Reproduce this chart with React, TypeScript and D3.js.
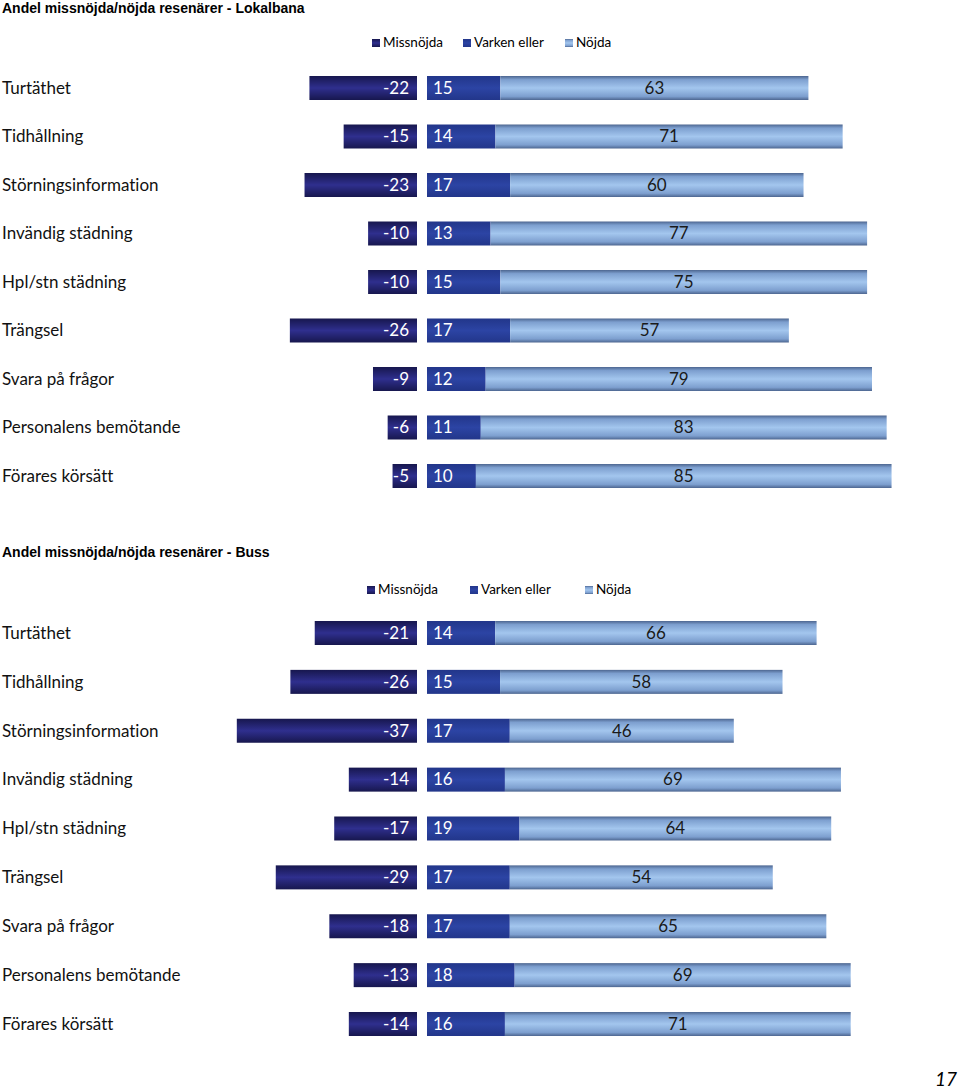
import React from "react";
import * as d3 from "d3";

const categories = [
  "Turtäthet",
  "Tidhållning",
  "Störningsinformation",
  "Invändig städning",
  "Hpl/stn städning",
  "Trängsel",
  "Svara på frågor",
  "Personalens bemötande",
  "Förares körsätt",
];

const lokalMiss = [-22, -15, -23, -10, -10, -26, -9, -6, -5];
const lokalVarken = [15, 14, 17, 13, 15, 17, 12, 11, 10];
const lokalNojd = [63, 71, 60, 77, 75, 57, 79, 83, 85];

const bussMiss = [-21, -26, -37, -14, -17, -29, -18, -13, -14];
const bussVarken = [14, 15, 17, 16, 19, 17, 17, 18, 16];
const bussNojd = [66, 58, 46, 69, 64, 54, 65, 69, 71];

const seriesNames = ["Missnöjda", "Varken eller", "Nöjda"];
const titles = [
  "Andel missnöjda/nöjda resenärer - Lokalbana",
  "Andel missnöjda/nöjda resenärer - Buss",
];
const pageNumber = "17";

const FONT = "Lato, 'Open Sans', sans-serif";
const TITLE_FONT = "'Liberation Sans', Arial, sans-serif";
const noLig = { fontVariantLigatures: "none" as const, fontFeatureSettings: "'liga' 0" };

type ChartProps = {
  title: string;
  miss: number[];
  varken: number[];
  nojd: number[];
  titleY: number;
  legendY: number;
  legendX: number[];
  yRange: [number, number];
  scale: number;
};

function Chart({ title, miss, varken, nojd, titleY, legendY, legendX, yRange, scale }: ChartProps) {
  const negZero = 417;
  const posZero = 427;
  const w = d3.scaleLinear().domain([0, 100]).range([0, scale]);
  const y = d3.scalePoint<string>().domain(categories).range(yRange);
  const barH = 24;
  const fills = ["url(#gMiss)", "url(#gVarken)", "url(#gNojd)"];
  return (
    <g>
      <text x={2} y={titleY} fontFamily={TITLE_FONT} fontWeight="bold" fontSize={14} fill="#000">
        {title}
      </text>
      {seriesNames.map((s, i) => (
        <g key={s}>
          <rect x={legendX[i]} y={legendY - 4} width={8} height={8} fill={fills[i]} />
          <text x={legendX[i] + 11} y={legendY + 1} fontFamily={FONT} fontSize={13.5} dominantBaseline="middle" fill="#000" style={noLig}>
            {s}
          </text>
        </g>
      ))}
      {categories.map((c, i) => {
        const cy = y(c) as number;
        const mw = w(Math.abs(miss[i]));
        const vw = w(varken[i]);
        const nw = w(nojd[i]);
        return (
          <g key={c}>
            <text x={2} y={cy + 1.5} fontFamily={FONT} fontSize={17} dominantBaseline="middle" fill="#111" style={noLig}>
              {c}
            </text>
            <rect x={negZero - mw} y={cy - barH / 2} width={mw} height={barH} fill="url(#gMiss)" />
            <text x={negZero - 8} y={cy + 1.5} textAnchor="end" fontFamily={FONT} fontSize={17} dominantBaseline="middle" fill="#fff">
              {miss[i]}
            </text>
            <rect x={posZero} y={cy - barH / 2} width={vw} height={barH} fill="url(#gVarken)" />
            <text x={posZero + 6} y={cy + 1.5} fontFamily={FONT} fontSize={17} dominantBaseline="middle" fill="#fff">
              {varken[i]}
            </text>
            <rect x={posZero + vw} y={cy - barH / 2} width={nw} height={barH} fill="url(#gNojd)" />
            <text x={posZero + vw + nw / 2} y={cy + 1.5} textAnchor="middle" fontFamily={FONT} fontSize={17} dominantBaseline="middle" fill="#1a1a1a">
              {nojd[i]}
            </text>
          </g>
        );
      })}
    </g>
  );
}

export default function App() {
  return (
    <svg width={960} height={1090} style={{ position: "absolute", left: 0, top: 0, background: "#fff" }}>
      <defs>
        <linearGradient id="gMiss" x1="0" y1="0" x2="0" y2="1">
          <stop offset="0" stopColor="#17174e" />
          <stop offset="0.5" stopColor="#2f2f8e" />
          <stop offset="1" stopColor="#17174e" />
        </linearGradient>
        <linearGradient id="gVarken" x1="0" y1="0" x2="0" y2="1">
          <stop offset="0" stopColor="#22368a" />
          <stop offset="0.5" stopColor="#2c44a4" />
          <stop offset="1" stopColor="#22368a" />
        </linearGradient>
        <linearGradient id="gNojd" x1="0" y1="0" x2="0" y2="1">
          <stop offset="0" stopColor="#4d6690" />
          <stop offset="0.15" stopColor="#7d9fcf" />
          <stop offset="0.5" stopColor="#a3c6ee" />
          <stop offset="0.85" stopColor="#7d9fcf" />
          <stop offset="1" stopColor="#4d6690" />
        </linearGradient>
      </defs>
      <Chart
        title={titles[0]}
        miss={lokalMiss}
        varken={lokalVarken}
        nojd={lokalNojd}
        titleY={13}
        legendY={43}
        legendX={[372, 463, 565]}
        yRange={[88, 476]}
        scale={489}
      />
      <Chart
        title={titles[1]}
        miss={bussMiss}
        varken={bussVarken}
        nojd={bussNojd}
        titleY={557}
        legendY={590}
        legendX={[367, 470, 585]}
        yRange={[633, 1024]}
        scale={487}
      />
      <text x={957} y={1086} textAnchor="end" fontFamily={FONT} fontStyle="italic" fontSize={19} fill="#000">
        {pageNumber}
      </text>
    </svg>
  );
}
